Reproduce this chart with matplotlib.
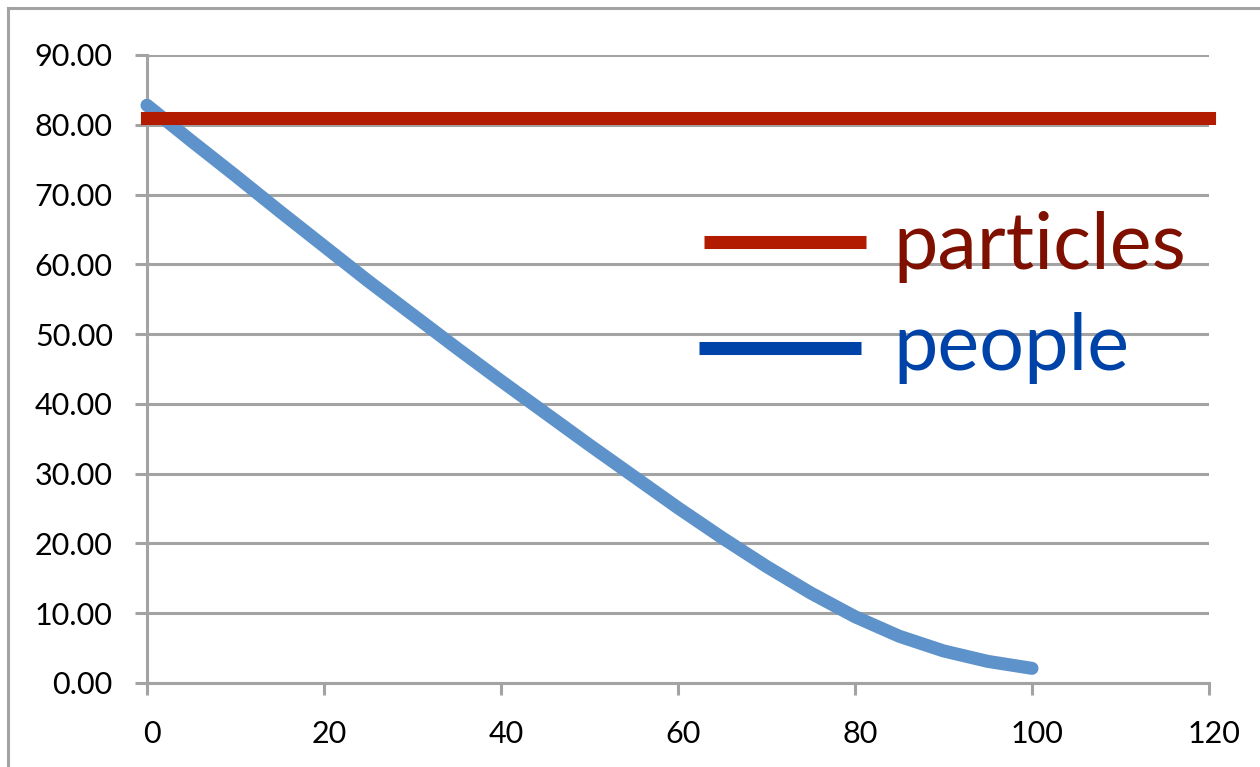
import matplotlib
matplotlib.use("Agg")
import matplotlib.pyplot as plt
import matplotlib.transforms as mtransforms
from matplotlib.lines import Line2D

# --- data -----------------------------------------------------------------
people_x = [0, 5, 10, 15, 20, 25, 30, 35, 40, 45, 50, 55, 60, 65, 70, 75, 80, 85, 90, 95, 100]
people_y = [82.8, 77.7, 72.7, 67.6, 62.6, 57.6, 52.8, 48.0, 43.3, 38.7, 34.1, 29.6, 25.1,
            20.8, 16.7, 12.9, 9.5, 6.7, 4.6, 3.1, 2.1]
particles_x = [0, 120]
particles_y = [80.9, 80.9]

x_ticks = [0, 20, 40, 60, 80, 100, 120]
y_ticks = [0, 10, 20, 30, 40, 50, 60, 70, 80, 90]
legend_labels = ["particles", "people"]

# --- styling --------------------------------------------------------------
GRID = "#A3A3A3"
RED = "#B31B00"
RED_TEXT = "#7F1000"
BLUE = "#5E92CA"
BLUE_KEY = "#0043A8"

W, H, DPI = 1260, 767, 100
fig = plt.figure(figsize=(W / DPI, H / DPI), dpi=DPI)
fig.patch.set_facecolor("white")

def fx(px):
    return px / W

def fy(py):
    return 1 - py / H

ax = fig.add_axes([fx(147), fy(683), fx(1209) - fx(147), fy(55) - fy(683)])
ax.set_xlim(0, 120)
ax.set_ylim(0, 90)

for side in ("top", "right"):
    ax.spines[side].set_visible(False)
for side in ("left", "bottom"):
    ax.spines[side].set_color(GRID)
    ax.spines[side].set_linewidth(2.2)

ax.set_xticks(x_ticks)
ax.set_yticks(y_ticks)
ax.set_yticklabels([f"{v:.2f}" for v in y_ticks])
ax.tick_params(axis="both", direction="out", length=8.6, width=2.2, color=GRID,
               labelsize=22, labelcolor="black")
ax.tick_params(axis="y", pad=16)
ax.tick_params(axis="x", pad=18)
for lab in ax.get_xticklabels() + ax.get_yticklabels():
    lab.set_fontfamily("Lato")
offset = mtransforms.ScaledTranslation(5 / DPI, 0, fig.dpi_scale_trans)
for lab in ax.get_xticklabels():
    lab.set_transform(lab.get_transform() + offset)

ax.yaxis.grid(True, color=GRID, linewidth=2.2)
ax.set_axisbelow(True)

# series
ax.plot(people_x, people_y, color=BLUE, linewidth=9.4, solid_capstyle="round",
        solid_joinstyle="round", clip_on=False, zorder=3)
ax.plot(particles_x, particles_y, color=RED, linewidth=9.4, solid_capstyle="projecting",
        clip_on=False, zorder=4)

# legend keys and labels
fig.add_artist(Line2D([fx(704), fx(866)], [fy(242), fy(242)], color=RED,
                      linewidth=9.4, solid_capstyle="butt"))
fig.add_artist(Line2D([fx(699), fx(861)], [fy(348), fy(348)], color=BLUE_KEY,
                      linewidth=9.4, solid_capstyle="butt"))
fig.text(fx(893), fy(269), legend_labels[0], color=RED_TEXT, fontsize=57,
         family="Lato", va="baseline", ha="left")
fig.text(fx(893), fy(370), legend_labels[1], color=BLUE_KEY, fontsize=57,
         family="Lato", va="baseline", ha="left")

# outer frame
fig.add_artist(Line2D([fx(8), fx(8)], [fy(8), 0], color=GRID, linewidth=2.2))
fig.add_artist(Line2D([fx(8), 1], [fy(8), fy(8)], color=GRID, linewidth=2.2))

fig.savefig("out.png", dpi=DPI, facecolor="white")
